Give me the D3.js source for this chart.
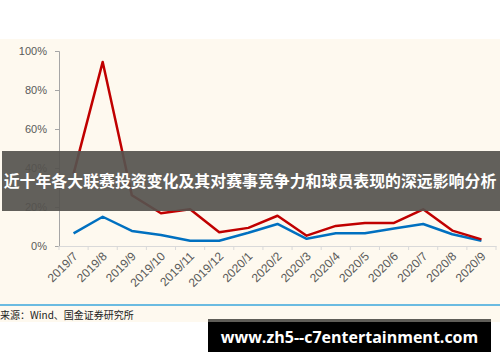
<!DOCTYPE html>
<html><head><meta charset="utf-8">
<script src="https://cdn.jsdelivr.net/npm/d3@7/dist/d3.min.js"></script>
<style>body{margin:0;background:#fff;}svg{display:block;}</style>
</head><body><svg id="c" width="500" height="362"></svg>
<script>
const categories = ["2019/7","2019/8","2019/9","2019/10","2019/11","2019/12","2020/1","2020/2","2020/3","2020/4","2020/5","2020/6","2020/7","2020/8","2020/9"];
const redValues  = [37, 94.4, 26, 16.8, 18.8, 7, 9.3, 15.5, 5.3, 10.3, 11.8, 11.8, 18.8, 7.9, 3.4];
const blueValues = [6.5, 15, 7.7, 5.6, 2.7, 2.7, 6.8, 11.3, 3.7, 6.5, 6.5, 9, 11.3, 6, 2.7];
const yTicks = [0, 20, 40, 60, 80, 100];
const titleText = "近十年各大联赛投资变化及其对赛事竞争力和球员表现的深远影响分析";
const sourceText = "来源：Wind、国金证券研究所";
const urlText = "www.zh5--c7entertainment.com";

const svg = d3.select("#c");
svg.append("rect").attr("x",0).attr("y",39).attr("width",500).attr("height",283).attr("fill","#fef9ef");

const x = d3.scaleBand().domain(categories).range([59,496]);
const y = d3.scaleLinear().domain([0,100]).range([246,51]);

// y axis
const ya = svg.append("g").attr("transform","translate(59,0)")
  .call(d3.axisLeft(y).tickValues(yTicks).tickFormat(d=>d+"%").tickSize(4).tickPadding(8));
ya.select(".domain").attr("stroke","#a6a6a6");
ya.selectAll(".tick line").attr("stroke","#a6a6a6");
ya.selectAll("text").attr("fill","#595959").style("font-family","'Liberation Sans',Arial,sans-serif").style("font-size","11px");

// x axis
const xa = svg.append("g").attr("transform","translate(0,246)")
  .call(d3.axisBottom(x).tickSize(0).tickFormat(""));
xa.select(".domain").attr("stroke","#d9d9d9");
xa.selectAll(".tick").remove();
const bounds = categories.map((c)=>x(c)).concat([x.range()[1]]);
xa.selectAll("line.tk").data(bounds).enter().append("line")
  .attr("x1",d=>d).attr("x2",d=>d).attr("y1",0).attr("y2",4).attr("stroke","#d9d9d9");
xa.selectAll("text.lb").data(categories).enter().append("text")
  .attr("transform",d=>`translate(${x(d)+x.bandwidth()/2+2},8) rotate(-45)`)
  .attr("text-anchor","end").attr("dy","0.35em")
  .attr("fill","#595959").style("font-family","'Liberation Sans',Arial,sans-serif").style("font-size","12px")
  .text(d=>d);

const line = d3.line().x((d,i)=>x(categories[i])+x.bandwidth()/2).y(d=>y(d));
svg.append("path").datum(blueValues).attr("d",line).attr("fill","none").attr("stroke","#0070c0").attr("stroke-width",2.5).attr("stroke-linejoin","round");
svg.append("path").datum(redValues).attr("d",line).attr("fill","none").attr("stroke","#c00000").attr("stroke-width",2.5).attr("stroke-linejoin","round");

// overlay title band
svg.append("rect").attr("x",2).attr("y",151).attr("width",498).attr("height",60).attr("fill","#55534e").attr("opacity",0.92);
svg.append("text").attr("x",250).attr("y",181).attr("dy","0.36em").attr("text-anchor","middle")
  .attr("fill","#fff").style("font-family","'Noto Sans CJK SC',sans-serif").style("font-weight","bold").style("font-size","15.9px")
  .text(titleText);

// source
svg.append("line").attr("x1",0).attr("x2",500).attr("y1",305).attr("y2",305).attr("stroke","#3aa6dd").attr("stroke-width",1.5);
svg.append("text").attr("x",0).attr("y",315).attr("dy","0.35em").attr("fill","#222")
  .style("font-family","'Noto Sans CJK SC',sans-serif").style("font-size","10px").text(sourceText);

// url box
svg.append("rect").attr("x",208).attr("y",319).attr("width",283).attr("height",33).attr("fill","#000");
svg.append("rect").attr("x",208).attr("y",319).attr("width",283).attr("height",3).attr("fill","#5f5d58");
svg.append("text").attr("x",349.5).attr("y",337).attr("dy","0.36em").attr("text-anchor","middle")
  .attr("fill","#fff").style("font-family","'Open Sans',sans-serif").style("font-weight","bold").style("font-size","16px")
  .text(urlText);
</script></body></html>
